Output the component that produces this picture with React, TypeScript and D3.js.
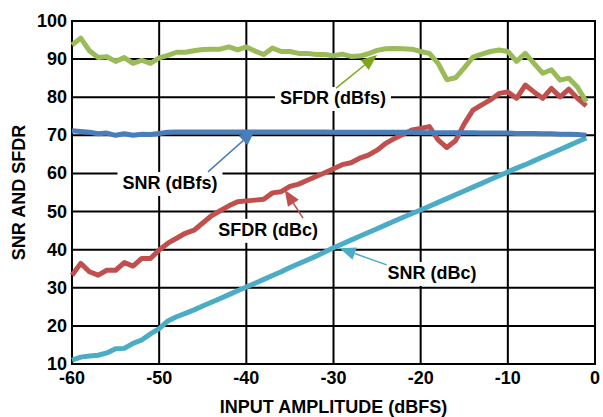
import React, { useEffect, useRef } from "react";
import * as d3 from "d3";

const inputAmplitude: number[] = d3.range(-60, 0);

const sfdrDbfs: number[] = [
  93.7, 95.5, 92.2, 90.4, 90.6, 89.4, 90.4, 88.9, 89.7, 88.9,
  90.3, 91.0, 91.8, 91.8, 92.2, 92.5, 92.6, 92.6, 93.2, 92.4,
  93.2, 92.1, 91.2, 92.9, 92.0, 92.0, 91.5, 91.5, 91.2, 91.2,
  90.9, 91.3, 90.7, 90.8, 91.4, 92.3, 92.7, 92.8, 92.7, 92.6,
  92.0, 91.5, 88.9, 84.6, 85.1, 87.7, 90.5, 91.3, 92.0, 92.4,
  92.0, 89.4, 91.5, 88.9, 86.3, 87.2, 84.5, 85.0, 82.6, 78.8,
];

const snrDbfs: number[] = [
  71.2, 71.0, 70.8, 70.4, 70.6, 70.0, 70.4, 70.0, 70.3, 70.2,
  70.5, 70.8, 70.9, 70.9, 70.9, 70.9, 70.9, 70.9, 70.9, 70.9,
  70.9, 70.9, 70.9, 70.9, 70.9, 70.9, 70.9, 70.9, 70.9, 70.9,
  70.8, 70.8, 70.8, 70.8, 70.8, 70.8, 70.8, 70.8, 70.8, 70.8,
  70.7, 70.7, 70.7, 70.7, 70.7, 70.7, 70.7, 70.6, 70.6, 70.6,
  70.6, 70.5, 70.5, 70.5, 70.4, 70.4, 70.3, 70.3, 70.2, 70.0,
];

const sfdrDbc: number[] = [
  33.3, 36.4, 34.2, 33.3, 34.6, 34.6, 36.6, 35.7, 37.7, 37.7,
  39.9, 41.7, 43.0, 44.3, 45.1, 47.0, 48.9, 50.2, 51.5, 52.6,
  52.8, 53.0, 53.2, 54.9, 55.2, 56.6, 57.2, 58.2, 59.2, 60.2,
  61.2, 62.3, 62.8, 64.0, 64.8, 66.1, 67.9, 69.2, 70.3, 71.4,
  71.8, 72.3, 68.8, 66.8, 68.6, 73.0, 76.6, 78.0, 79.3, 81.0,
  81.4, 79.7, 83.2, 81.4, 79.7, 82.3, 80.1, 82.1, 79.7, 77.7,
];

const snrDbc: number[] = [
  11.0, 11.8, 12.1, 12.3, 12.9, 14.0, 14.1, 15.4, 16.3, 17.9,
  19.3, 21.3, 22.4, 23.3, 24.2, 25.2, 26.2, 27.2, 28.2, 29.2,
  30.2, 31.2, 32.2, 33.2, 34.2, 35.3, 36.3, 37.3, 38.3, 39.4,
  40.5, 41.5, 42.5, 43.5, 44.5, 45.5, 46.5, 47.5, 48.5, 49.5,
  50.4, 51.4, 52.4, 53.4, 54.4, 55.4, 56.4, 57.4, 58.4, 59.4,
  60.4, 61.4, 62.3, 63.3, 64.3, 65.3, 66.3, 67.3, 68.3, 69.3,
];

const xTicks: number[] = [-60, -50, -40, -30, -20, -10, 0];
const yTicks: number[] = [10, 20, 30, 40, 50, 60, 70, 80, 90, 100];

const seriesNames: string[] = ["SFDR (dBfs)", "SNR (dBfs)", "SFDR (dBc)", "SNR (dBc)"];
const seriesColors: string[] = ["#9BBB59", "#4A7EBB", "#C0504D", "#4BACC6"];
const arrowColors: string[] = ["#7FA51E", "#4A7EBB", "#C0504D", "#4BACC6"];
// label centre (x,y) and arrow start/end in data units
const labelX: number[] = [-30.06, -48.76, -37.5, -18.7];
const labelY: number[] = [79.8, 57.5, 45.2, 33.9];
const arrowFromX: number[] = [-29.7, -44.4, -33.5, -23.9];
const arrowFromY: number[] = [82.4, 60.4, 48.3, 36.0];
const arrowToX: number[] = [-25.0, -39.0, -35.6, -29.3];
const arrowToY: number[] = [91.1, 71.4, 55.7, 40.4];

const W = 603;
const H = 417;
const FONT = "'Liberation Sans', Arial, sans-serif";

export default function App() {
  const ref = useRef<SVGSVGElement | null>(null);

  useEffect(() => {
    const svg = d3.select(ref.current);
    svg.selectAll("*").remove();

    const x = d3.scaleLinear().domain([-60, 0]).range([72, 595]);
    const y = d3.scaleLinear().domain([10, 100]).range([364, 21]);

    const g = svg.append("g");

    // grid
    g.selectAll("line.vg")
      .data(xTicks)
      .join("line")
      .attr("x1", (d) => x(d))
      .attr("x2", (d) => x(d))
      .attr("y1", y(10))
      .attr("y2", y(100))
      .attr("stroke", "#000")
      .attr("stroke-width", 2);
    g.selectAll("line.hg")
      .data(yTicks)
      .join("line")
      .attr("x1", x(-60))
      .attr("x2", x(0))
      .attr("y1", (d) => y(d))
      .attr("y2", (d) => y(d))
      .attr("stroke", "#000")
      .attr("stroke-width", 2);
    g.append("rect")
      .attr("x", x(-60))
      .attr("y", y(100))
      .attr("width", x(0) - x(-60))
      .attr("height", y(10) - y(100))
      .attr("fill", "none")
      .attr("stroke", "#000")
      .attr("stroke-width", 2);

    // tick labels
    g.selectAll("text.yt")
      .data(yTicks)
      .join("text")
      .attr("x", 67)
      .attr("y", (d) => y(d) + 6)
      .attr("text-anchor", "end")
      .attr("font-family", FONT)
      .attr("font-weight", "bold")
      .attr("font-size", 18)
      .text((d) => String(d));
    g.selectAll("text.xt")
      .data(xTicks)
      .join("text")
      .attr("x", (d) => x(d))
      .attr("y", 384)
      .attr("text-anchor", "middle")
      .attr("font-family", FONT)
      .attr("font-weight", "bold")
      .attr("font-size", 18)
      .text((d) => String(d));

    // axis titles
    g.append("text")
      .attr("x", (x(-60) + x(0)) / 2)
      .attr("y", 413)
      .attr("text-anchor", "middle")
      .attr("font-family", FONT)
      .attr("font-weight", "bold")
      .attr("font-size", 18)
      .text("INPUT AMPLITUDE (dBFS)");
    g.append("text")
      .attr("transform", `translate(25,${(y(10) + y(100)) / 2}) rotate(-90)`)
      .attr("text-anchor", "middle")
      .attr("font-family", FONT)
      .attr("font-weight", "bold")
      .attr("font-size", 18)
      .text("SNR AND SFDR");

    // labels with white boxes
    seriesNames.forEach((name, i) => {
      const cx = x(labelX[i]);
      const cy = y(labelY[i]);
      const rect = g.append("rect").attr("fill", "#fff");
      const t = g
        .append("text")
        .attr("x", cx)
        .attr("y", cy + 6.5)
        .attr("text-anchor", "middle")
        .attr("font-family", FONT)
        .attr("font-weight", "bold")
        .attr("font-size", 18)
        .text(name);
      const w = (t.node() as SVGTextElement).getComputedTextLength();
      rect
        .attr("x", cx - w / 2 - 5)
        .attr("y", cy - 11)
        .attr("width", w + 10)
        .attr("height", 24);
    });

    // series
    const all = [sfdrDbfs, snrDbfs, sfdrDbc, snrDbc];
    const line = d3
      .line<number>()
      .x((_, i) => x(inputAmplitude[i]))
      .y((d) => y(d));
    [snrDbc, sfdrDbc, snrDbfs, sfdrDbfs].forEach((s) => {
      const idx = all.indexOf(s);
      g.append("path")
        .attr("d", line(s) as string)
        .attr("fill", "none")
        .attr("stroke", seriesColors[idx])
        .attr("stroke-width", 5)
        .attr("stroke-linejoin", "round")
        .attr("stroke-linecap", "butt");
    });

    // arrows
    seriesNames.forEach((_, i) => {
      const x1 = x(arrowFromX[i]);
      const y1 = y(arrowFromY[i]);
      const x2 = x(arrowToX[i]);
      const y2 = y(arrowToY[i]);
      const dx = x2 - x1;
      const dy = y2 - y1;
      const len = Math.hypot(dx, dy);
      const ux = dx / len;
      const uy = dy / len;
      const hl = 16;
      const hw = 6.5;
      const bx = x2 - ux * hl;
      const by = y2 - uy * hl;
      g.append("line")
        .attr("x1", x1)
        .attr("y1", y1)
        .attr("x2", bx)
        .attr("y2", by)
        .attr("stroke", arrowColors[i])
        .attr("stroke-width", 1.5);
      g.append("path")
        .attr(
          "d",
          `M${x2},${y2}L${bx - uy * hw},${by + ux * hw}L${bx + uy * hw},${by - ux * hw}Z`
        )
        .attr("fill", arrowColors[i]);
    });
  }, []);

  return (
    <svg
      ref={ref}
      width={W}
      height={H}
      style={{ position: "absolute", left: 0, top: 0, background: "#fff" }}
    />
  );
}
